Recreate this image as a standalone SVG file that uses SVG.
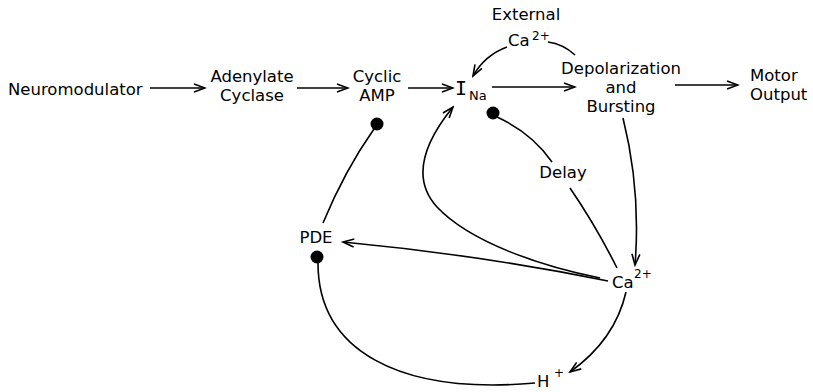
<svg xmlns="http://www.w3.org/2000/svg" width="813" height="392" viewBox="0 0 813 392">
<style>
text{font-family:"DejaVu Sans","Liberation Sans",sans-serif;font-size:16.5px;fill:#000}
.c{text-anchor:middle}
.sub{font-size:13px}
.sup{font-size:12px}
.ln{fill:none;stroke:#000;stroke-width:1.6}
.ar{marker-end:url(#arr)}
.dot{fill:#000}
</style>
<defs>
<marker id="arr" markerWidth="14" markerHeight="10" refX="12" refY="5" orient="auto" markerUnits="userSpaceOnUse">
<path d="M1,1 L12,5 L1,9" fill="none" stroke="#000" stroke-width="1.6"/>
</marker>
</defs>
<rect width="813" height="392" fill="#fff"/>
<g id="neuromodulator"><text x="8" y="95">Neuromodulator</text></g>
<g id="adenylate-cyclase"><text class="c" x="252" y="82">Adenylate</text><text class="c" x="252" y="101">Cyclase</text></g>
<g id="cyclic-amp"><text class="c" x="377" y="82">Cyclic</text><text class="c" x="377" y="101">AMP</text></g>
<g id="i-na"><text x="455" y="95" style="font-family:'DejaVu Sans Mono',monospace;font-size:20px">I</text><text class="sub" x="469" y="100">Na</text></g>
<g id="depolarization"><text class="c" x="621" y="74">Depolarization</text><text class="c" x="621" y="93">and</text><text class="c" x="621" y="112">Bursting</text></g>
<g id="motor-output"><text x="750" y="81">Motor</text><text x="750" y="100">Output</text></g>
<g id="external-ca"><text class="c" x="526" y="20">External</text><text x="508" y="46">Ca</text><text class="sup" x="532" y="40">2+</text></g>
<g id="delay"><text class="c" x="563" y="178">Delay</text></g>
<g id="pde"><text class="c" x="316" y="243">PDE</text></g>
<g id="ca"><text x="612" y="288">Ca</text><text class="sup" x="634" y="278">2+</text></g>
<g id="h"><text x="537" y="387">H</text><text class="sup" x="554" y="377">+</text></g>
<g id="connectors">
<path class="ln ar" d="M150,88 L205,88"/>
<path class="ln ar" d="M297,88 L348,88"/>
<path class="ln ar" d="M408,88 L453,88"/>
<path class="ln ar" d="M492,87 L575,87"/>
<path class="ln ar" d="M675,85 L738,85"/>
<path class="ln" d="M575,55 Q563,44 548,42"/>
<path class="ln ar" d="M507,47 Q485,55 473,76"/>
<circle class="dot" cx="377" cy="124" r="6.5"/>
<path class="ln" d="M374,129 Q345,170 323,223"/>
<circle class="dot" cx="493" cy="113" r="6.5"/>
<path class="ln" d="M497,117 Q532,133 552,162"/>
<path class="ln" d="M570,188 Q596,226 617,268"/>
<path class="ln ar" d="M623,118 Q641,190 635,265"/>
<path class="ln ar" d="M608,281 Q480,255 343,242"/>
<path class="ln ar" d="M600,278 C540,266 470,242 437,207 C415,183 418,150 453,107"/>
<circle class="dot" cx="317" cy="257" r="6.5"/>
<path class="ln" d="M318,263 C318,350 398,395 535,383"/>
<path class="ln ar" d="M626,292 Q615,340 570,372"/>
</g>
</svg>
